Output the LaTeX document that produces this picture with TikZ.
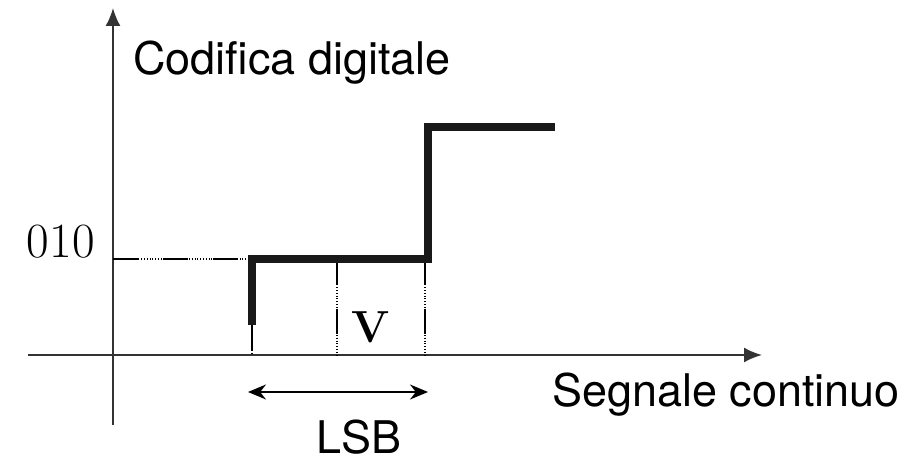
\documentclass[tikz,border=0pt]{standalone}
\usepackage{fontspec}
\newfontfamily\heros{TeX Gyre Heros}
\usetikzlibrary{arrows.meta,positioning}

\begin{document}
\begin{tikzpicture}[
  axis/.style={line width=1.1pt,black!80},
  guide/.style={line width=0.6pt,densely dotted,
    postaction={draw,dash pattern=on 0.5cm off 0.5cm}},
  stair/.style={line width=4pt,black!90,line cap=butt,line join=miter},
  lbl/.style={font=\heros\fontsize{25.6}{30}\selectfont,inner sep=0pt},
  num/.style={font=\fontsize{28}{32}\selectfont,inner sep=0pt}]
  \useasboundingbox (-2.26,-2.14) rectangle (15.86,7.10);
  % axes
  \coordinate (O) at (0,0);
  \coordinate (xs) at (-1.7,0);
  \coordinate (xe) at (12.98,0);
  \coordinate (ys) at (0,-1.4);
  \coordinate (ye) at (0,6.94);
  \draw[axis,-{Latex[length=0.36cm,width=0.3cm]}] (xs) -- (xe);
  \draw[axis,-{Latex[length=0.36cm,width=0.3cm]}] (ys) -- (ye);
  % quantisation step
  \coordinate (lev) at (0,1.92);
  \coordinate (s0) at (2.78,0.6);
  \coordinate (s1) at (2.78,1.92);
  \coordinate (s2) at (6.3,1.92);
  \coordinate (s3) at (6.3,4.56);
  \coordinate (s4) at (8.84,4.56);
  \coordinate (mid) at (4.48,1.92);
  \draw[guide] (lev) -- (s1);
  \draw[guide] (s0) -- (s0 |- O);
  \draw[guide] (mid) -- (mid |- O);
  \draw[guide] ([xshift=-0.06cm]s2) -- ([xshift=-0.06cm]s2 |- O);
  \draw[stair] (s0) -- (s1) -- (s2) -- (s3) -- (s4);
  % labels
  \node[lbl,anchor=base west] (cod) at (0.4,5.6) {Codifica digitale};
  \node[lbl,anchor=base west] (seg) at (8.78,-1.04) {Segnale continuo};
  \node[num,anchor=base east] (n010) at (-0.36,1.94) {010};
  \node[num,font=\bfseries\fontsize{25.6}{30}\selectfont,anchor=base] (v) at (5.16,0.24) {V};
  \coordinate (la) at (2.7,-0.74);
  \coordinate (lb) at (6.3,-0.74);
  \draw[line width=1pt,{Stealth[length=0.36cm,width=0.3cm]}-{Stealth[length=0.36cm,width=0.3cm]}] (la) -- (lb);
  \node[lbl,anchor=base] (lsb) at (4.92,-1.97) {LSB};
\end{tikzpicture}
\end{document}
